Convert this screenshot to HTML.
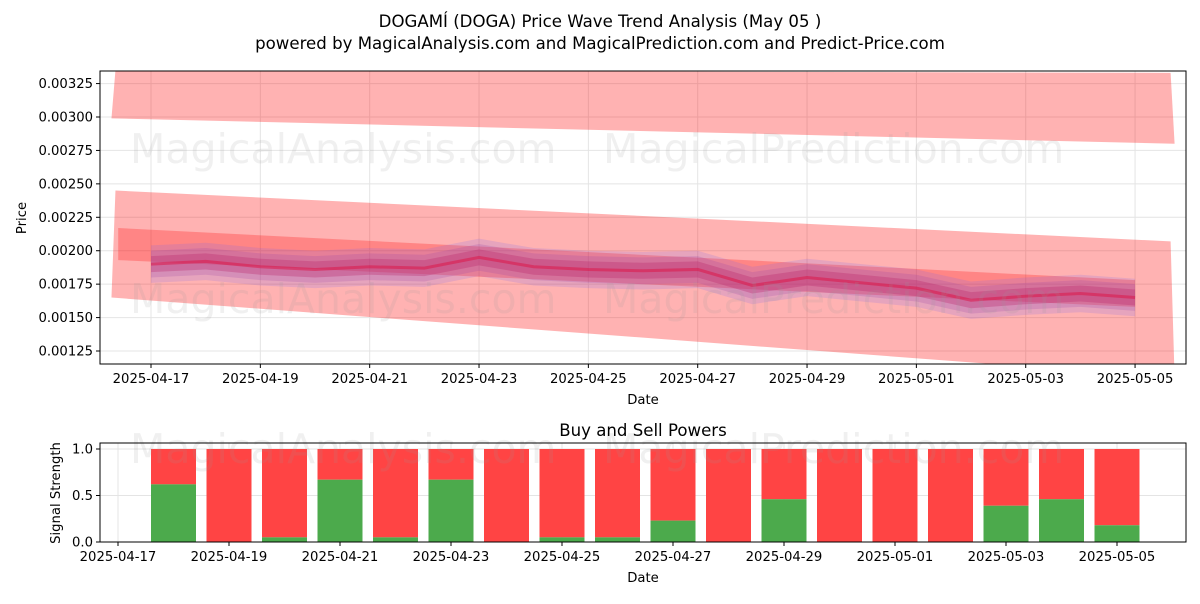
<!DOCTYPE html>
<html><head><meta charset="utf-8"><style>
body{margin:0;background:#fff;font-family:"DejaVu Sans","Liberation Sans",sans-serif}
svg text{font-family:"DejaVu Sans","Liberation Sans",sans-serif;fill:#000}
</style></head><body>
<svg id="c" width="1200" height="600" xmlns="http://www.w3.org/2000/svg">
<text x="600" y="27" text-anchor="middle" font-size="16.6">DOGAMÍ (DOGA) Price Wave Trend Analysis (May 05 )</text>
<text x="600" y="49" text-anchor="middle" font-size="16.6">powered by MagicalAnalysis.com and MagicalPrediction.com and Predict-Price.com</text>
<g id="top"></g><g id="bot"></g>
</svg>
<script>
const dates=["04-17","04-18","04-19","04-20","04-21","04-22","04-23","04-24","04-25","04-26","04-27","04-28","04-29","04-30","05-01","05-02","05-03","05-04","05-05"];
const price=[0.00190,0.00192,0.00188,0.00186,0.00188,0.00187,0.00195,0.00188,0.00186,0.00185,0.00186,0.00174,0.00180,0.00176,0.00172,0.00163,0.00166,0.00168,0.00165];
const upperBandTop=[0.00335,0.00333];
const upperBandBot=[0.00299,0.00280];
const midBandTop=[0.00245,0.00207];
const midBandBot=[0.00165,0.00105];
const yTicks=[0.00125,0.00150,0.00175,0.00200,0.00225,0.00250,0.00275,0.00300,0.00325];
const xTickLabels=["2025-04-17","2025-04-19","2025-04-21","2025-04-23","2025-04-25","2025-04-27","2025-04-29","2025-05-01","2025-05-03","2025-05-05"];
const buy=[0.62,0,0.05,0.67,0.05,0.67,0,0.05,0.05,0.23,0,0.46,0,0,0,0.39,0.46,0.18];
const sigTicks=[0,0.5,1.0];
const NS="http://www.w3.org/2000/svg";
const FS=13.2;
function el(p,t,a){const e=document.createElementNS(NS,t);for(const k in a)e.setAttribute(k,a[k]);p.appendChild(e);return e;}
const T=document.getElementById('top'),B=document.getElementById('bot');
const L=100,R=1186,Tt=71,Tb=364;
const xT=d=>151+d*54.67, yT=v=>117+(0.003-v)/0.00025*33.43;
for(const v of yTicks){const y=yT(v);el(T,'line',{x1:L,x2:R,y1:y,y2:y,stroke:'#e4e4e4'});el(T,'line',{x1:L-4,x2:L,y1:y,y2:y,stroke:'#000'});
const t=el(T,'text',{x:L-7,y:y+4.5,'text-anchor':'end','font-size':FS});t.textContent=v.toFixed(5);

}
xTickLabels.forEach((s,i)=>{const x=xT(i*2);el(T,'line',{x1:x,x2:x,y1:Tt,y2:Tb,stroke:'#e4e4e4'});el(T,'line',{x1:x,x2:x,y1:Tb,y2:Tb+4,stroke:'#000'});
const t=el(T,'text',{x:x,y:Tb+19,'text-anchor':'middle','font-size':FS});t.textContent=s;

});
el(T,'clipPath',{id:'cp'}).appendChild(document.createElementNS(NS,'rect'));
const cr=T.querySelector('clipPath rect');['x','y','width','height'].forEach((k,i)=>cr.setAttribute(k,[L,Tt,R-L,Tb-Tt][i]));
const g=el(T,'g',{'clip-path':'url(#cp)'});
const x0=xT(-0.65),x1=xT(18.65);
function band(top,bot,name){const p=el(g,'polygon',{points:`${x0},${yT(top[0])} ${x1},${yT(top[1])} ${x1+4},${yT(bot[1])} ${x0-4},${yT(bot[0])}`,fill:'#ff0000','fill-opacity':0.3});

}
band(upperBandTop,upperBandBot,'upper-band');band(midBandTop,midBandBot,'middle-band');
el(g,'polygon',{points:`${xT(-0.6)},${yT(0.00217)} ${xT(18)},${yT(0.00178)} ${xT(18)},${yT(0.00158)} ${xT(-0.6)},${yT(0.00193)}`,fill:'#ff0000','fill-opacity':0.25});
[[0.00014,0.18,'#7766ee'],[0.0001,0.22,'#9944aa'],[0.00006,0.3,'#bb2266']].forEach(([w,o,c])=>{
let pts=price.map((v,i)=>`${xT(i)},${yT(v+w)}`).concat(price.map((v,i)=>`${xT(i)},${yT(v-w)}`).reverse());
const p=el(g,'polygon',{points:pts.join(' '),fill:c,'fill-opacity':o});

});
const ln=el(g,'polyline',{points:price.map((v,i)=>`${xT(i)},${yT(v)}`).join(' '),fill:'none',stroke:'#dd1144','stroke-width':3,'stroke-opacity':0.5});


el(T,'text',{x:130,y:163,'font-size':41,style:'fill:#999;fill-opacity:0.15'}).textContent='MagicalAnalysis.com';
el(T,'text',{x:603,y:163,'font-size':41,style:'fill:#999;fill-opacity:0.15'}).textContent='MagicalPrediction.com';
el(T,'text',{x:130,y:313,'font-size':41,style:'fill:#999;fill-opacity:0.15'}).textContent='MagicalAnalysis.com';
el(T,'text',{x:603,y:313,'font-size':41,style:'fill:#999;fill-opacity:0.15'}).textContent='MagicalPrediction.com';
el(T,'rect',{x:L,y:Tt,width:R-L,height:Tb-Tt,fill:'none',stroke:'#000'});
el(T,'text',{x:643,y:404,'text-anchor':'middle','font-size':FS}).textContent='Date';
el(T,'text',{x:26,y:218,'text-anchor':'middle','font-size':FS,transform:'rotate(-90 26 218)'}).textContent='Price';
const bT=443,bB=542;
const xB=d=>118+d*55.5, yB=v=>542-v*93;
for(const v of sigTicks){const y=yB(v);el(B,'line',{x1:L,x2:R,y1:y,y2:y,stroke:'#e4e4e4'});el(B,'line',{x1:L-4,x2:L,y1:y,y2:y,stroke:'#000'});
const t=el(B,'text',{x:L-7,y:y+4.5,'text-anchor':'end','font-size':FS});t.textContent=v.toFixed(1);

}
xTickLabels.forEach((s,i)=>{const x=xB(i*2);el(B,'line',{x1:x,x2:x,y1:bT,y2:bB,stroke:'#e4e4e4'});el(B,'line',{x1:x,x2:x,y1:bB,y2:bB+4,stroke:'#000'});
const t=el(B,'text',{x:x,y:bB+19,'text-anchor':'middle','font-size':FS});t.textContent=s;

});
buy.forEach((v,i)=>{const x=xB(i+1)-22.5;
const r=el(B,'rect',{x:x,y:yB(1),width:45,height:yB(v)-yB(1),fill:'#ff4444'});


const gr=el(B,'rect',{x:x,y:yB(v),width:45,height:yB(0)-yB(v),fill:'#4caa4c'});

});
el(B,'text',{x:130,y:463,'font-size':41,style:'fill:#999;fill-opacity:0.15'}).textContent='MagicalAnalysis.com';
el(B,'text',{x:603,y:463,'font-size':41,style:'fill:#999;fill-opacity:0.15'}).textContent='MagicalPrediction.com';
el(B,'rect',{x:L,y:bT,width:R-L,height:bB-bT,fill:'none',stroke:'#000'});
el(B,'text',{x:643,y:436,'text-anchor':'middle','font-size':16.6}).textContent='Buy and Sell Powers';
el(B,'text',{x:643,y:582,'text-anchor':'middle','font-size':FS}).textContent='Date';
el(B,'text',{x:60,y:493,'text-anchor':'middle','font-size':FS,transform:'rotate(-90 60 493)'}).textContent='Signal Strength';
</script>
</body></html>
